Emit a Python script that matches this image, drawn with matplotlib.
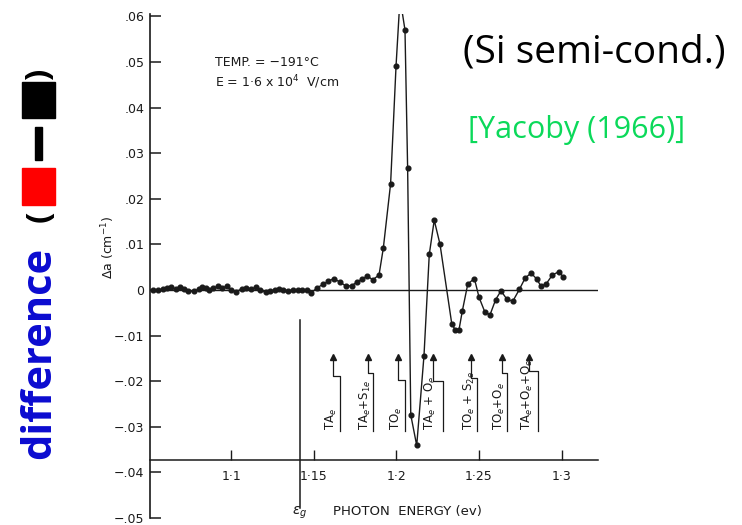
import matplotlib
matplotlib.use("Agg")
import matplotlib.pyplot as plt
from matplotlib.patches import Rectangle

# Photon energy (eV) and electroabsorption change (cm^-1)
energy = [1.0528, 1.0559, 1.0589, 1.0610, 1.0636, 1.0664, 1.0690, 1.0714, 1.0740, 1.0777,
          1.0807, 1.0825, 1.0847, 1.0866, 1.0892, 1.0922, 1.0946, 1.0973, 1.0999, 1.1027,
          1.1064, 1.1090, 1.1120, 1.1150, 1.1174, 1.1209, 1.1235, 1.1265, 1.1289, 1.1315,
          1.1346, 1.1376, 1.1403, 1.1430, 1.1457, 1.1483,
          1.1518, 1.1554, 1.1588, 1.1622, 1.1659, 1.1693, 1.1729, 1.1763, 1.1794, 1.1824,
          1.1857, 1.1895, 1.1921, 1.1965, 1.1998, 1.2022, 1.2052, 1.2068, 1.2087, 1.2123,
          1.2167, 1.2199, 1.2229, 1.2264, 1.2335, 1.2355, 1.2379, 1.2399, 1.2432, 1.2472,
          1.2500, 1.2536, 1.2567, 1.2601, 1.2633, 1.2668, 1.2704, 1.2744, 1.2779, 1.2815,
          1.2849, 1.2875, 1.2906, 1.2944, 1.2984, 1.3010]
d_alpha = [0.0, 0.0, 0.0001, 0.0004, 0.0007, 0.0001, 0.0006, 0.0002, -0.0003, -0.0003,
           0.0002, 0.0006, 0.0004, -0.0001, 0.0004, 0.0008, 0.0004, 0.0008, -0.0001, -0.0004,
           0.0002, 0.0004, 0.0001, 0.0006, -0.0001, -0.0005, -0.0003, -0.0001, 0.0001, -0.0001,
           -0.0003, 0.0, -0.0001, -0.0001, -0.0001, -0.0007,
           0.0004, 0.0012, 0.0019, 0.0025, 0.0017, 0.0009, 0.0009, 0.0018, 0.0024, 0.0031,
           0.0022, 0.0033, 0.0092, 0.0233, 0.0492, 0.064, 0.0570, 0.0267, -0.0274, -0.0341,
           -0.0144, 0.0078, 0.0153, 0.0100, -0.0074, -0.0087, -0.0087, -0.0046, 0.0013, 0.0025,
           -0.0016, -0.0049, -0.0054, -0.0021, -0.0002, -0.0020, -0.0025, 0.0001, 0.0026, 0.0037,
           0.0024, 0.0008, 0.0013, 0.0033, 0.0040, 0.0028]

# phonon-assisted transition markers
trans_labels = ["TA$_e$", "TA$_e$+S$_{1e}$", "TO$_e$", "TA$_e$ + O$_e$",
                "TO$_e$ + S$_{2e}$", "TO$_e$+O$_e$", "TA$_e$+O$_e$+O$_e$"]
trans_arrow_E = [1.1618, 1.1826, 1.2012, 1.2220, 1.2452, 1.2637, 1.2804]
trans_line_E = [1.1659, 1.1860, 1.2052, 1.2284, 1.2490, 1.2668, 1.2859]
trans_step = [-0.0188, -0.0183, -0.0198, -0.0200, -0.0194, -0.0181, -0.0177]

e_gap = 1.1416
y_ticks = [0.06, 0.05, 0.04, 0.03, 0.02, 0.01, 0, -0.01, -0.02, -0.03, -0.04, -0.05]
y_ticklabels = [".06", ".05", ".04", ".03", ".02", ".01", "0",
                "\u2212.01", "\u2212.02", "\u2212.03", "\u2212.04", "\u2212.05"]
x_ticks = [1.1, 1.15, 1.2, 1.25, 1.3]
x_ticklabels = ["1\u00b71", "1\u00b715", "1\u00b72", "1\u00b725", "1\u00b73"]

W, H = 742, 525
fig = plt.figure(figsize=(W / 100, H / 100), dpi=100)
ax = fig.add_axes([150 / W, 7 / H, 448 / W, 504 / H])
ink = "#1a1a1a"

ax.plot(energy, d_alpha, color=ink, lw=1.0, marker="o", ms=3.4)
ax.axhline(0, color=ink, lw=1.0)
ax.plot([e_gap, e_gap], [-0.0065, -0.0477], color=ink, lw=1.1)

for lab, xa, xl, ys in zip(trans_labels, trans_arrow_E, trans_line_E, trans_step):
    ax.plot([xa, xa, xl, xl], [-0.0146, ys, ys, -0.0309], color=ink, lw=0.9)
    ax.plot(xa, -0.0146, marker="^", ms=4, color=ink)
    ax.text(xa - 0.0012, -0.0306, lab, rotation=90, ha="center", va="bottom",
            fontsize=8.5, color=ink)

ax.set_xlim(1.0509, 1.3220)
ax.set_ylim(-0.0496, 0.0605)
for s in ["top", "right"]:
    ax.spines[s].set_visible(False)
ax.spines["bottom"].set_position(("data", -0.0373))
ax.spines["left"].set_linewidth(1.2)
ax.spines["bottom"].set_linewidth(1.1)
ax.spines["left"].set_color(ink)
ax.spines["bottom"].set_color(ink)

ax.set_yticks(y_ticks)
ax.set_yticklabels(y_ticklabels)
ax.set_xticks(x_ticks)
ax.set_xticklabels(x_ticklabels)
ax.tick_params(axis="y", direction="in", length=8, width=1.1, pad=4,
               labelsize=9, colors=ink)
ax.tick_params(axis="x", direction="in", length=7, width=1.0, pad=7,
               labelsize=9, colors=ink)

ax.text(1.0902, 0.0499, "TEMP. = \u2212191\u00b0C", fontsize=9, color=ink, va="center")
ax.text(1.0902, 0.0455, "E = 1\u00b76 x 10$^4$  V/cm", fontsize=9, color=ink, va="center")

# axis titles as in the scan
fig.text(108 / W, 1 - 247 / H, "\u0394a (cm$^{-1}$)", rotation=90, ha="center",
         va="center", fontsize=9, color=ink)
fig.text(407 / W, 1 - 512 / H, "PHOTON  ENERGY (ev)", ha="center", va="center",
         fontsize=9.5, color=ink)
fig.text(300 / W, 1 - 513 / H, "$\\epsilon_g$", ha="center", va="center",
         fontsize=10, color=ink)

# overlay annotations
fig.text(594 / W, 1 - 52 / H, "(Si semi-cond.)", ha="center", va="center",
         fontsize=28, family="Open Sans", color="black")
fig.text(577 / W, 1 - 130 / H, "[Yacoby (1966)]", ha="center", va="center",
         fontsize=22, family="Open Sans", color="#0bd95a")
fig.text(40 / W, 1 - 353 / H, "difference", rotation=90, ha="center", va="center",
         fontsize=30, family="Open Sans", weight="bold", color="#0b0bd0")
fig.text(40 / W, 1 - 216 / H, "(", rotation=90, ha="center", va="center",
         fontsize=24, family="Open Sans", weight="bold", color="black")
fig.text(40 / W, 1 - 74 / H, ")", rotation=90, ha="center", va="center",
         fontsize=24, family="Open Sans", weight="bold", color="black")
fig.add_artist(Rectangle((22 / W, 1 - 205 / H), 33 / W, 37 / H,
                         transform=fig.transFigure, color="#ff0000"))
fig.add_artist(Rectangle((35 / W, 1 - 160 / H), 7 / W, 33 / H,
                         transform=fig.transFigure, color="black"))
fig.add_artist(Rectangle((22 / W, 1 - 118 / H), 33 / W, 36 / H,
                         transform=fig.transFigure, color="black"))

fig.savefig("out.png", dpi=100)
